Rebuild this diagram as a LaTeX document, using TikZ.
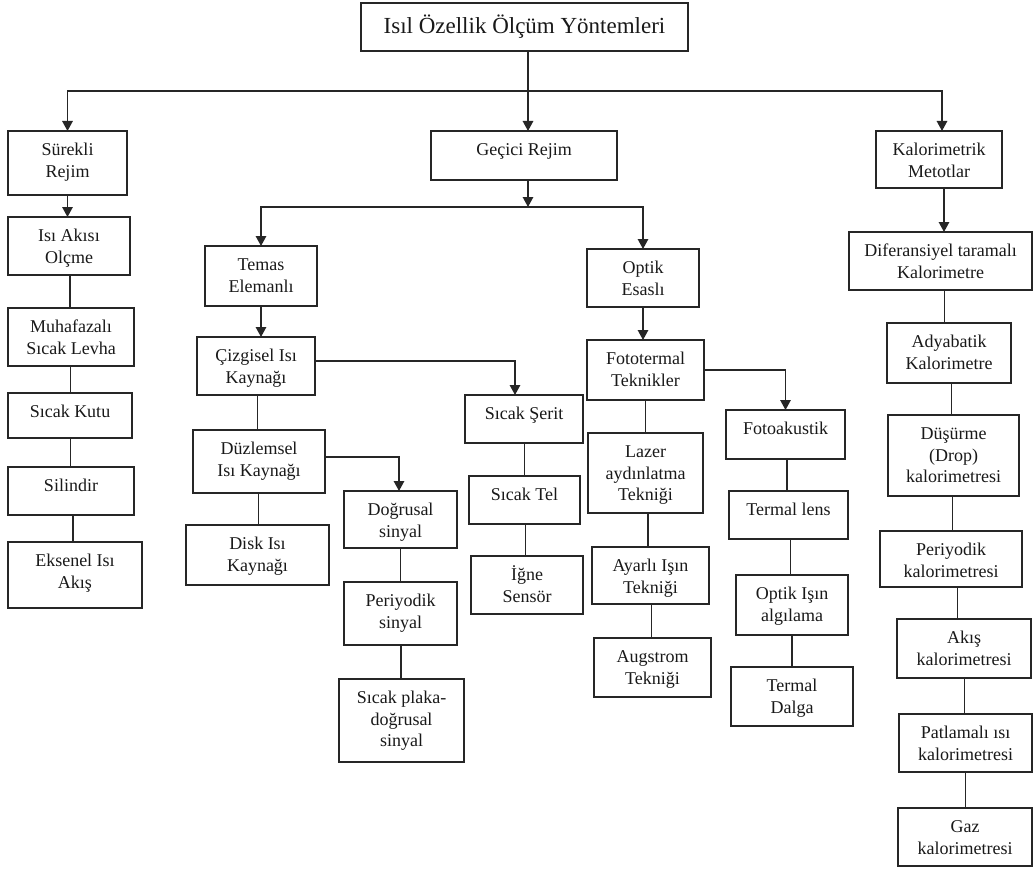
\documentclass[tikz,border=0pt]{standalone}
\usepackage{fontspec}
\setmainfont{Liberation Serif}
\usetikzlibrary{arrows.meta,calc}
\tikzset{
  box/.style={draw=black!85, line width=1.4pt, inner sep=0pt, outer sep=0pt, fill=white},
  txt/.style={inner sep=0pt, align=center, font=\fontsize{18}{21.5}\selectfont, text=black!90},
  ln/.style={draw=black!85, line width=1.4pt},
  arr/.style={-{Triangle[length=10pt,width=10.5pt]}}
}
\newcommand\bx[6]{%
  \node[box, minimum width={(#4-#2)*1pt}, minimum height={(#5-#3)*1pt}] (#1) at ({(#2+#4)/2},{-(#3+#5)/2}) {};
  \node[txt, anchor=north] (#1t) at ([yshift=-7.5pt]#1.north) {\rule{0pt}{17pt}#6};
}
\newcommand\vl[2]{%
  \path ($(#1.south)!0.5!(#2.north)$) coordinate (tmp#1#2);
  \draw[ln] (#1.south -| tmp#1#2) -- (#2.north -| tmp#1#2);
}
\begin{document}
\begin{tikzpicture}[x=1pt,y=1pt]
\useasboundingbox (0,0) rectangle (1035,-872);
\fill[white] (0,0) rectangle (1035,-872);
% title
\node[box, minimum width=327pt, minimum height=48pt] (title) at (524.5,-27) {};
\node[inner sep=0pt, font=\fontsize{23}{27}\selectfont, text=black!90] (titlet) at (title.center) {Isıl Özellik Ölçüm Yöntemleri};
% left column
\bx{surekli}{8}{131}{127}{195}{Sürekli\\Rejim}
\bx{isiakisi}{8}{217}{130}{275}{Isı Akısı\\Olçme}
\bx{muhaf}{8}{308}{134}{366}{Muhafazalı\\Sıcak Levha}
\bx{kutu}{8}{393}{132}{438}{Sıcak Kutu}
\bx{silindir}{8}{467}{134}{515}{Silindir}
\bx{eksenel}{8}{542}{142}{608}{Eksenel Isı\\Akış}
% middle
\bx{gecici}{431}{131}{617}{180}{Geçici Rejim}
\bx{temas}{205}{246}{317}{306}{Temas\\Elemanlı}
\bx{cizgisel}{197}{337}{315}{395}{Çizgisel Isı\\Kaynağı}
\bx{duzlem}{193}{430}{325}{493}{Düzlemsel\\Isı Kaynağı}
\bx{disk}{186}{525}{329}{585}{Disk Isı\\Kaynağı}
\bx{dogrusal}{344}{491}{457}{548}{Doğrusal\\sinyal}
\bx{periyodik}{344}{582}{457}{645}{Periyodik\\sinyal}
\bx{plaka}{339}{679}{464}{762}{Sıcak plaka-\\doğrusal\\sinyal}
\bx{serit}{465}{395}{583}{443}{Sıcak Şerit}
\bx{tel}{469}{476}{580}{524}{Sıcak Tel}
\bx{igne}{471}{556}{583}{614}{İğne\\Sensör}
\bx{optik}{587}{249}{699}{307}{Optik\\Esaslı}
\bx{fototermal}{587}{340}{704}{400}{Fototermal\\Teknikler}
\bx{lazer}{588}{433}{703}{513}{Lazer\\aydınlatma\\Tekniği}
\bx{ayarli}{592}{547}{709}{604}{Ayarlı Işın\\Tekniği}
\bx{augstrom}{594}{638}{711}{697}{Augstrom\\Tekniği}
\bx{fotoak}{726}{410}{845}{459}{Fotoakustik}
\bx{lens}{729}{491}{848}{539}{Termal lens}
\bx{optikisin}{736}{575}{848}{635}{Optik Işın\\algılama}
\bx{dalga}{731}{667}{853}{726}{Termal\\Dalga}
% right column
\bx{kalori}{876}{131}{1002}{188}{Kalorimetrik\\Metotlar}
\bx{dsc}{849}{232}{1032}{290}{Diferansiyel taramalı\\Kalorimetre}
\bx{adya}{887}{323}{1011}{383}{Adyabatik\\Kalorimetre}
\bx{dusurme}{888}{415}{1019}{496}{Düşürme\\(Drop)\\kalorimetresi}
\bx{periyk}{880}{531}{1022}{587}{Periyodik\\kalorimetresi}
\bx{akis}{897}{619}{1031}{678}{Akış\\kalorimetresi}
\bx{patla}{899}{714}{1032}{772}{Patlamalı ısı\\kalorimetresi}
\bx{gaz}{898}{808}{1032}{866}{Gaz\\kalorimetresi}
% connectors
\coordinate (bus1) at (528,-91);
\coordinate (bus2) at (528,-207);
\draw[ln,arr] (title.south -| bus1) -- (gecici.north -| bus1);
\draw[ln,arr] (bus1) -| (surekli.north);
\draw[ln,arr] (bus1) -| ([xshift=3pt]kalori.north);
\draw[ln,arr] (gecici.south -| bus2) -- (bus2);
\draw[ln,arr] (bus2) -| (temas.north);
\draw[ln,arr] (bus2) -| (optik.north);
% left column
\draw[ln,arr] (surekli.south) -- (surekli.south |- isiakisi.north);
\vl{isiakisi}{muhaf}
\vl{muhaf}{kutu}
\vl{kutu}{silindir}
\vl{silindir}{eksenel}
% contact branch
\draw[ln,arr] (temas.south) -- (temas.south |- cizgisel.north);
\draw[ln,arr] ([yshift=5pt]cizgisel.east) -| ([xshift=-9pt]serit.north);
\vl{cizgisel}{duzlem}
\draw[ln,arr] ([yshift=4.5pt]duzlem.east) -| ([xshift=-1.5pt]dogrusal.north);
\vl{duzlem}{disk}
\vl{dogrusal}{periyodik}
\vl{periyodik}{plaka}
\vl{serit}{tel}
\vl{tel}{igne}
% optical branch
\draw[ln,arr] (optik.south) -- (optik.south |- fototermal.north);
\draw[ln,arr] (fototermal.east) -| (fotoak.north);
\vl{fototermal}{lazer}
\vl{lazer}{ayarli}
\vl{ayarli}{augstrom}
\vl{fotoak}{lens}
\vl{lens}{optikisin}
\vl{optikisin}{dalga}
% calorimetric
\draw[ln,arr] ([xshift=5pt]kalori.south) -- ([xshift=5pt]kalori.south |- dsc.north);
\vl{dsc}{adya}
\vl{adya}{dusurme}
\vl{dusurme}{periyk}
\vl{periyk}{akis}
\vl{akis}{patla}
\vl{patla}{gaz}
\end{tikzpicture}
\end{document}
